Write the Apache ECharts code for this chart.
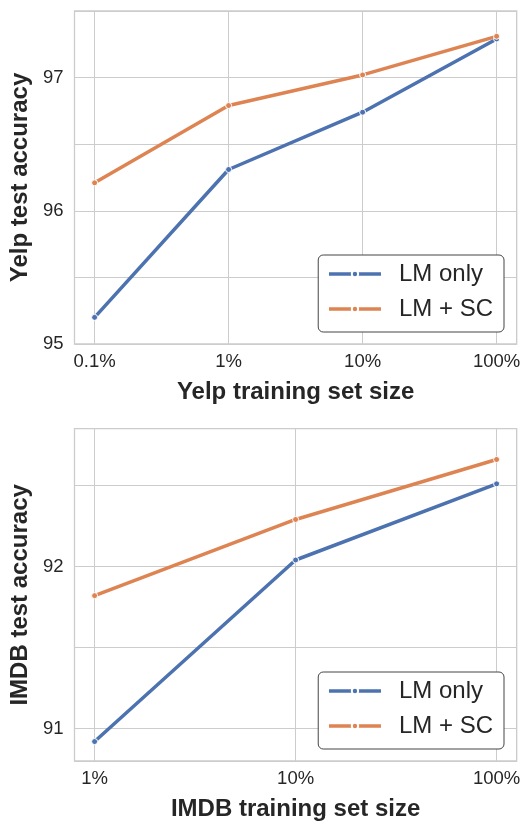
<!DOCTYPE html>
<html>
<head>
<meta charset="utf-8">
<script src="https://cdn.jsdelivr.net/npm/echarts@6/dist/echarts.min.js"></script>
<style>
html,body{margin:0;padding:0;background:#fff;}
#chart{width:529px;height:823px;}
</style>
</head>
<body>
<div id="chart"></div>
<script>
// ---- data ----
const yelpSizes = ['0.1%', '1%', '10%', '100%'];
const yelpLMOnly = [95.20, 96.31, 96.74, 97.29];
const yelpLMSC = [96.21, 96.79, 97.02, 97.31];
const imdbSizes = ['1%', '10%', '100%'];
const imdbLMOnly = [90.92, 92.04, 92.51];
const imdbLMSC = [91.82, 92.29, 92.66];
const seriesNames = ['LM only', 'LM + SC'];

const BLUE = '#4C72B0', ORANGE = '#DD8452';
const TXT = '#262626', GRIDC = '#cccccc';
const FONT = "'Liberation Sans', Arial, sans-serif";

const toPairs = arr => arr.map((v, i) => [i, v]);
const intLabel = v => {
  const r = Math.round(v * 1000) / 1000;
  return Number.isInteger(r) ? String(r) : '';
};
const catLabel = cats => v => {
  const r = Math.round(v * 1000) / 1000;
  return Number.isInteger(r) && cats[r] !== undefined ? cats[r] : '';
};

function xAxisFor(gridIndex, cats, name) {
  const n = cats.length - 1;
  const pad = n * 0.05;
  return {
    type: 'value', gridIndex, min: -pad, max: n + pad,
    minInterval: 1, maxInterval: 1,
    name, nameLocation: 'middle', nameGap: 36,
    nameTextStyle: { fontFamily: FONT, fontSize: 24, fontWeight: 'bold', color: TXT },
    axisLine: { show: false }, axisTick: { show: false },
    axisLabel: { formatter: catLabel(cats), fontFamily: FONT, fontSize: 18.5, color: TXT, margin: 8, showMinLabel: true, showMaxLabel: true },
    splitLine: { show: true, lineStyle: { color: GRIDC, width: 1 } }
  };
}
function yAxisFor(gridIndex, min, max, name) {
  return {
    type: 'value', gridIndex, min, max,
    minInterval: 0.5, maxInterval: 0.5,
    name, nameLocation: 'middle', nameGap: 38,
    nameTextStyle: { fontFamily: FONT, fontSize: 24, fontWeight: 'bold', color: TXT },
    axisLine: { show: false }, axisTick: { show: false },
    axisLabel: { formatter: intLabel, fontFamily: FONT, fontSize: 18.5, color: TXT, margin: 11 },
    splitLine: { show: true, lineStyle: { color: GRIDC, width: 1 } }
  };
}
function lineSeries(name, color, data, idx) {
  return {
    type: 'line', name, xAxisIndex: idx, yAxisIndex: idx,
    data: toPairs(data),
    symbol: 'circle', symbolSize: 6, showSymbol: true,
    lineStyle: { color, width: 3.5 },
    itemStyle: { color, borderColor: '#fff', borderWidth: 1 },
    z: 3
  };
}
function legendFor(bottom) {
  return {
    orient: 'vertical', right: 25, bottom,
    data: seriesNames,
    itemWidth: 52, itemHeight: 8, itemGap: 11,
    padding: [7, 11, 11, 9],
    borderColor: '#444', borderWidth: 1, borderRadius: 5,
    backgroundColor: '#fff',
    selectedMode: false,
    lineStyle: { width: 3.5 },
    textStyle: { fontFamily: FONT, fontSize: 24, color: TXT, padding: [0, 0, 0, 13] }
  };
}

const chart = echarts.init(document.getElementById('chart'), null, { renderer: 'canvas' });
chart.setOption({
  backgroundColor: '#fff',
  animation: false,
  grid: [
    { left: 74.5, right: 12.3, top: 11, height: 333, show: true, borderColor: GRIDC, borderWidth: 1.3, backgroundColor: 'transparent' },
    { left: 74.5, right: 12.3, top: 428.7, height: 332.3, show: true, borderColor: GRIDC, borderWidth: 1.3, backgroundColor: 'transparent' }
  ],
  xAxis: [
    xAxisFor(0, yelpSizes, 'Yelp training set size'),
    xAxisFor(1, imdbSizes, 'IMDB training set size')
  ],
  yAxis: [
    yAxisFor(0, 95, 97.5, 'Yelp test accuracy'),
    yAxisFor(1, 90.8, 92.85, 'IMDB test accuracy')
  ],
  legend: [legendFor(823 - 332), legendFor(823 - 749)],
  series: [
    lineSeries(seriesNames[0], BLUE, yelpLMOnly, 0),
    lineSeries(seriesNames[1], ORANGE, yelpLMSC, 0),
    lineSeries(seriesNames[0], BLUE, imdbLMOnly, 1),
    lineSeries(seriesNames[1], ORANGE, imdbLMSC, 1)
  ]
});
</script>
</body>
</html>
